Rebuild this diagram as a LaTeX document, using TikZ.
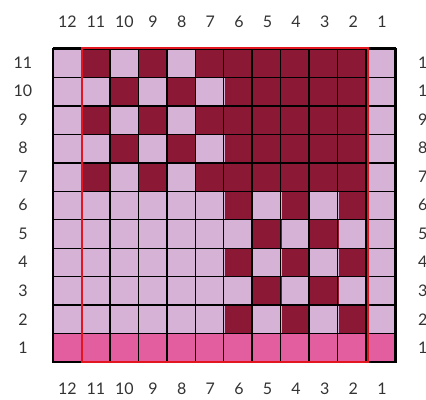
\documentclass[tikz,border=0pt]{standalone}
\usepackage{fontspec}
\setmainfont{Lato}

\definecolor{knitdark}{RGB}{139,24,52}
\definecolor{knitlight}{RGB}{214,178,214}
\definecolor{knitpink}{RGB}{226,94,158}
\definecolor{knitred}{RGB}{226,22,32}

\begin{document}
\begin{tikzpicture}[
    x=28.6pt, y=28.55pt,
    font=\fontsize{16}{19}\selectfont,
    cell0/.style={fill=knitpink},
    cell1/.style={fill=knitlight},
    cell2/.style={fill=knitdark},
    gridline/.style={draw=black, line width=1.4pt},
    border/.style={draw=black, line width=2.6pt},
    repeatbox/.style={draw=knitred, line width=2pt},
    numlabel/.style={inner sep=0pt, text=black!80}
]

% Frame of the page
\useasboundingbox (-1.853,-1.296) rectangle (13.042,12.681);
\clip (-1.853,-1.296) rectangle (13.042,12.681);

% Cells: 0 = pink, 1 = light, 2 = dark
\foreach \i in {0,...,11} {
    \foreach \j in {0,...,10} {
        \pgfmathtruncatemacro\c{12-\i}
        \pgfmathtruncatemacro\r{\j+1}
        \pgfmathtruncatemacro\kind{\r==1 ? 0 : ((\c==12 || \c==1) ? 1 : (((\r>=7) == (\c>=7)) ? (mod(\r+\c,2)==0 ? 2 : 1) : (\r>=7 ? 2 : 1)))}
        \fill[cell\kind] (\i,\j) rectangle ++(1,1);
    }
}

% Grid lines
\draw[gridline] (0,0) grid (12,11);
\draw[border] (0,11) -- (0,0) -- (12,0) -- (12,11);
\draw[gridline] (0,11) -- (12,11);
\draw[repeatbox] (1,0) rectangle (11,11);

% Column numbers
\foreach \i in {0,...,11} {
    \pgfmathtruncatemacro\c{12-\i}
    \node[numlabel] (top-\c) at (\i+0.5,11.91) {\c};
    \node[numlabel] (bot-\c) at (\i+0.5,-0.946) {\c};
}

% Row numbers
\foreach \j in {0,...,10} {
    \pgfmathtruncatemacro\r{\j+1}
    \node[numlabel] (left-\r) at (-1.05,\j+0.5) {\r};
    \node[numlabel, anchor=west] (right-\r) at (12.76,\j+0.5) {\r};
}

\end{tikzpicture}
\end{document}
